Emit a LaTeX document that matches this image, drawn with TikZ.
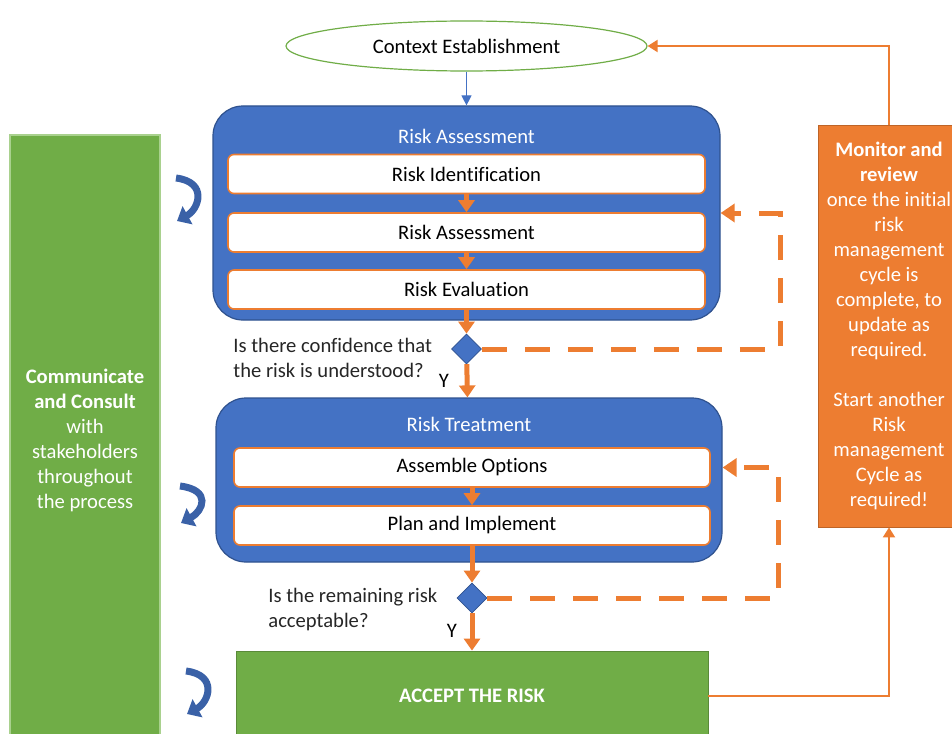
\documentclass[tikz,border=0pt]{standalone}
\usepackage{fontspec}
\setmainfont{Carlito}[Ligatures=NoCommon]
\usetikzlibrary{shapes.geometric}
\usetikzlibrary{positioning}
\usetikzlibrary{arrows.meta}
\definecolor{rblue}{HTML}{4472C4}
\definecolor{rblueD}{HTML}{2F528F}
\definecolor{rorange}{HTML}{ED7D31}
\definecolor{rgreen}{HTML}{70AD47}
\definecolor{rgreenL}{HTML}{A9D18E}
\tikzset{
    context/.style = {ellipse, draw=rgreen, fill=white, line width=0.6pt, inner sep=0pt, minimum width=180.5pt, minimum height=25pt},
    stage/.style = {rectangle, rounded corners=15pt, draw=rblueD, fill=rblue, line width=0.6pt},
    stagetitle/.style = {text=white},
    taskbox/.style = {rectangle, rounded corners=3pt, draw=rorange, fill=white, line width=0.8pt, minimum height=19.5pt},
    check/.style = {diamond, draw=rblueD, fill=rblue, line width=0.4pt, inner sep=0pt, minimum width=15pt, minimum height=15pt},
    question/.style = {anchor=west, inner sep=0pt, align=left, text=black!85},
    consult/.style = {rectangle, draw=rgreenL, fill=rgreen, line width=0.6pt, text=white, align=center, minimum width=75pt, minimum height=305pt},
    monitor/.style = {rectangle, draw=rorange!80!black, fill=rorange, line width=0.4pt, text=white, align=center, minimum width=71pt, minimum height=201pt},
    accept/.style = {rectangle, draw=rgreen!80!black, fill=rgreen, line width=0.4pt, text=white, font=\fontsize{10.3}{12.5}\selectfont\bfseries, minimum width=236pt, minimum height=45pt},
    edgeb/.style = {-{Triangle[width=5pt,length=5pt]}, line width=0.6pt, draw=rblue},
    flow/.style = {-{Triangle[width=8pt,length=6pt]}, line width=2.5pt, draw=rorange},
    retry/.style = {-{Triangle[width=9pt,length=7pt]}, line width=2.5pt, draw=rorange, dash pattern=on 12.5pt off 9pt},
    backline/.style = {-{Triangle[width=6pt,length=5pt]}, line width=1pt, draw=rorange},
    turn/.style = {-{Triangle[width=10pt,length=6pt]}, line width=3.5pt, draw=rblue!85!black}
}

\begin{document}
\begin{tikzpicture}[x=0.5pt,y=-0.5pt,font=\fontsize{10.3}{12.5}\selectfont]
\clip (0,0) rectangle (952,733);
\node[context] at (466.5,46) (ctx) {Context Establishment};
%
\node[stage, minimum width=253.5pt, minimum height=107pt] at (466.5,213) (assess) {};
\node[stagetitle] at (466.5,136) (assesst) {Risk Assessment};
\node[taskbox, minimum width=238.5pt] at (466.5,174) (ident) {Risk Identification};
\node[taskbox, minimum width=238.5pt] at (466.5,232.5) (analy) {Risk Assessment};
\node[taskbox, minimum width=238.5pt] at (466.5,289.5) (evalu) {Risk Evaluation};
\node[check] at (466.5,349) (conf) {};
\node[question] at (233,357.5) (confq) {Is there confidence that\\the risk is understood?};
\node at (444,381) (confy) {Y};
%
\node[stage, minimum width=253pt, minimum height=82pt] at (469,480) (treat) {};
\node[stagetitle] at (469,424) (treatt) {Risk Treatment};
\node[taskbox, minimum width=238pt] at (472,467.5) (opts) {Assemble Options};
\node[taskbox, minimum width=238pt] at (472,525.5) (plan) {Plan and Implement};
\node[check] at (472,598) (accq) {};
\node[question] at (268,609) (accqt) {Is the remaining risk\\acceptable?};
\node at (452,631) (accy) {Y};
%
\node[accept] at (472,696) (acc) {ACCEPT THE RISK};
\node[consult] at (85,440) (comm) {\textbf{Communicate}\\\textbf{and Consult}\\with\\stakeholders\\throughout\\the process};
\node[monitor] at (889,326) (mon) {\textbf{Monitor and}\\\textbf{review}\\once the initial\\risk\\management\\cycle is\\complete, to\\update as\\required.\\[12.5pt]Start another\\Risk\\management\\Cycle as\\required!};
%
\coordinate (loopa) at (780,213);
\coordinate (loopb) at (778,467.5);
\coordinate (t1) at (176,178);
\coordinate (t2) at (180,486);
\coordinate (t3) at (186,671);
%
\draw[edgeb] (ctx) -- (assess);
\draw[flow] (ident) -- (analy);
\draw[flow] (analy) -- (evalu);
\draw[flow] (evalu) -- (conf);
\draw[flow] (conf) -- (treat);
\draw[flow] (opts) -- (plan);
\draw[flow] (plan) -- (accq);
\draw[flow] (accq) -- (acc);
\draw[retry] (conf.east) -| (loopa) -- (assess.east);
\draw[retry] (accq.east) -| (loopb) -- (treat.east |- opts);
\draw[backline] (acc.east) -| (mon.south);
\draw[backline] (mon.north) |- (ctx.east);
%
\draw[turn] (t1) .. controls +(32,4) and +(22,-12) .. ++(1,43);
\draw[turn] (t2) .. controls +(32,4) and +(22,-12) .. ++(1,37);
\draw[turn] (t3) .. controls +(32,4) and +(22,-12) .. ++(1,43);
\end{tikzpicture}
\end{document}
